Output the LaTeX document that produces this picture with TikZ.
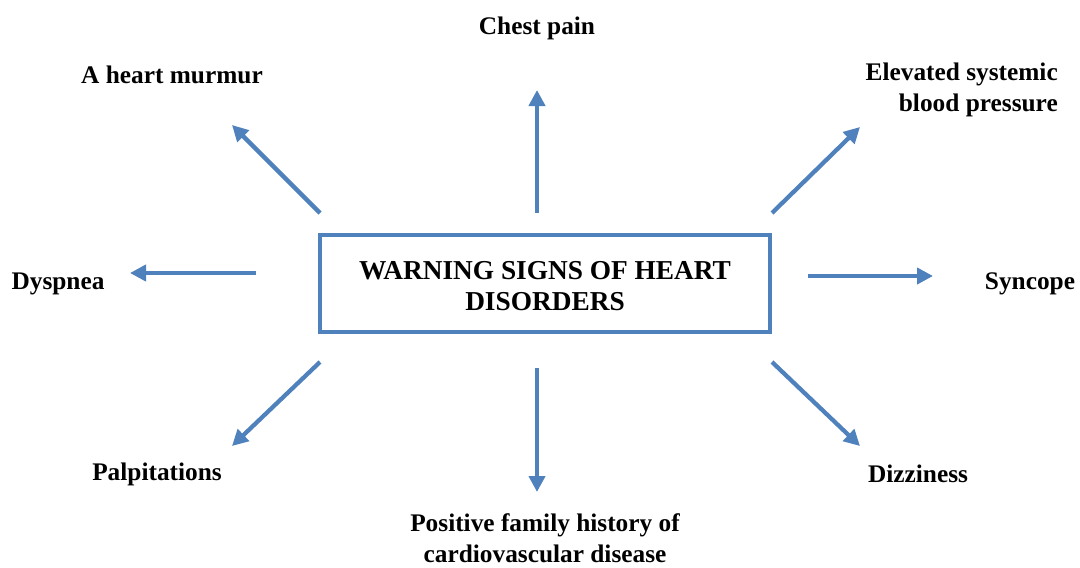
\documentclass[tikz,border=0pt]{standalone}
\usepackage{fontspec}
\setmainfont{Liberation Serif}
\usetikzlibrary{arrows.meta}
\definecolor{signblue}{RGB}{79,129,189}
\begin{document}
\begin{tikzpicture}[x=0.75pt, y=-0.75pt,
	lbl/.style={font=\fontsize{19}{23}\selectfont\bfseries, inner sep=0pt, align=center},
	sign/.style={draw=signblue, line width=3.2pt, -{Triangle[length=12pt, width=12pt]}}]
	
	\useasboundingbox (0,0) rectangle (1080,567);
	
	% centre box
	\node[draw=signblue, line width=2.8pt, minimum width=450*0.75pt, minimum height=97*0.75pt, inner sep=0pt, fill=white] (main) at (545,283.5) {};
	\node[lbl, font=\fontsize{20.5}{23.5}\selectfont\bfseries] (title) at (545,286) {WARNING SIGNS OF HEART\\DISORDERS};
	
	% labels
	\node[lbl] (chest) at (537,28) {Chest pain};
	\node[lbl] (murmur) at (172,75) {A heart murmur};
	\node[lbl, align=right, anchor=east] (bp) at (1058,90) {Elevated systemic\\blood pressure};
	\node[lbl] (dysp) at (58,284) {Dyspnea};
	\node[lbl] (sync) at (1030,284) {Syncope};
	\node[lbl] (palp) at (157,474) {Palpitations};
	\node[lbl] (dizz) at (918,474) {Dizziness};
	\node[lbl] (family) at (545,538) {Positive family history of\\cardiovascular disease};
	
	% arrow ends
	\coordinate (t1) at (537,213);  \coordinate (h1) at (537,90);
	\coordinate (t2) at (320,213);  \coordinate (h2) at (232,125);
	\coordinate (t3) at (772,213);  \coordinate (h3) at (860,127);
	\coordinate (t4) at (256,273);  \coordinate (h4) at (130,273);
	\coordinate (t5) at (808,276);  \coordinate (h5) at (933,276);
	\coordinate (t6) at (320,362);  \coordinate (h6) at (232,446);
	\coordinate (t7) at (537,368);  \coordinate (h7) at (537,492);
	\coordinate (t8) at (772,362);  \coordinate (h8) at (860,446);
	
	\foreach \i in {1,...,8}
		\draw[sign] (t\i) -- (h\i);
	
\end{tikzpicture}
\end{document}
